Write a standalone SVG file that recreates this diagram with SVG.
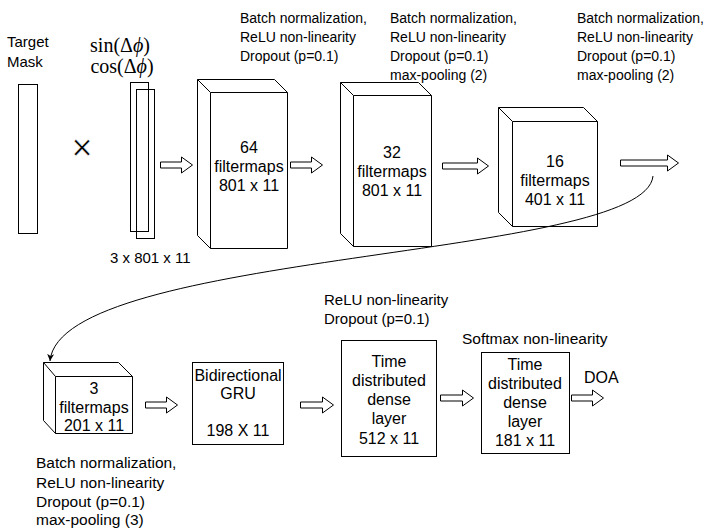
<svg xmlns="http://www.w3.org/2000/svg" width="722" height="528" viewBox="0 0 722 528">
<style>
.s{fill:#fff;stroke:#000;stroke-width:1}
.t{font-family:"Liberation Sans",Arial,sans-serif;fill:#000}
.b{font-size:16px;text-anchor:middle}
.l14{font-size:14px}
.l15{font-size:15px}
.l155{font-size:15.5px}
.ar{fill:#fff;stroke:#000;stroke-width:1}
.m{font-family:"Liberation Serif","Times New Roman",serif;font-size:20px;text-anchor:middle}
</style>
<defs>
<marker id="ah" markerWidth="8" markerHeight="8" refX="7" refY="4" orient="auto" markerUnits="userSpaceOnUse">
<path d="M0,0.5 L7,4 L0,7.5 L2,4 Z" fill="#000"/>
</marker>
</defs>
<rect width="722" height="528" fill="#fff"/>

<g id="labels">
<text class="t l15" x="7" y="47">Target</text>
<text class="t l15" x="7" y="67">Mask</text>
<text class="m" x="120" y="52">sin(Δ<tspan font-style="italic">ϕ</tspan>)</text>
<text class="m" x="122" y="73">cos(Δ<tspan font-style="italic">ϕ</tspan>)</text>
<text class="t l15" x="110" y="263">3 x 801 x 11</text>
<text class="t" x="82" y="160" font-size="36" text-anchor="middle" stroke="#fff" stroke-width="0.6">×</text>
<text class="t l14" x="240" y="23">Batch normalization,</text>
<text class="t l14" x="240" y="42">ReLU non-linearity</text>
<text class="t l14" x="240" y="61">Dropout (p=0.1)</text>
<text class="t l14" x="390" y="23">Batch normalization,</text>
<text class="t l14" x="390" y="42">ReLU non-linearity</text>
<text class="t l14" x="390" y="61">Dropout (p=0.1)</text>
<text class="t l14" x="390" y="80">max-pooling (2)</text>
<text class="t l14" x="577" y="23">Batch normalization,</text>
<text class="t l14" x="577" y="42">ReLU non-linearity</text>
<text class="t l14" x="577" y="61">Dropout (p=0.1)</text>
<text class="t l14" x="577" y="80">max-pooling (2)</text>
<text class="t l15" x="324" y="305">ReLU non-linearity</text>
<text class="t l15" x="324" y="324">Dropout (p=0.1)</text>
<text class="t l155" x="462" y="344">Softmax non-linearity</text>
<text class="t" x="584" y="383" font-size="16">DOA</text>
<text class="t l155" x="36" y="468">Batch normalization,</text>
<text class="t l155" x="36" y="488">ReLU non-linearity</text>
<text class="t l155" x="36" y="507">Dropout (p=0.1)</text>
<text class="t l155" x="36" y="525">max-pooling (3)</text>
</g>

<g id="mask">
<rect class="s" x="18.5" y="84.5" width="19" height="149"/>
</g>
<g id="input">
<rect class="s" x="130.5" y="82.5" width="18" height="149"/>
<rect fill="none" stroke="#000" x="136.5" y="89.5" width="18" height="149"/>
</g>

<g id="cube64">
<path class="s" d="M197.5,79.5 H274.5 L287.5,92.5 V248.5 H210.5 L197.5,235.5 Z"/>
<path fill="none" stroke="#000" d="M197.5,79.5 L210.5,92.5 H287.5 M210.5,92.5 V248.5"/>
<text class="t b" x="249" y="153">64</text>
<text class="t b" x="249" y="172">filtermaps</text>
<text class="t b" x="249" y="191">801 x 11</text>
</g>

<g id="cube32">
<path class="s" d="M340.5,82.5 H418.5 L431.5,95.5 V246.5 H353.5 L340.5,233.5 Z"/>
<path fill="none" stroke="#000" d="M340.5,82.5 L353.5,95.5 H431.5 M353.5,95.5 V246.5"/>
<text class="t b" x="392" y="158">32</text>
<text class="t b" x="392" y="177">filtermaps</text>
<text class="t b" x="392" y="196">801 x 11</text>
</g>

<g id="cube16">
<path class="s" d="M498.5,107.5 H583.5 L597.5,121.5 V226.5 H512.5 L498.5,212.5 Z"/>
<path fill="none" stroke="#000" d="M498.5,107.5 L512.5,121.5 H597.5 M512.5,121.5 V226.5"/>
<text class="t b" x="555" y="167">16</text>
<text class="t b" x="555" y="186">filtermaps</text>
<text class="t b" x="555" y="205">401 x 11</text>
</g>

<g id="cube3">
<path class="s" d="M43.5,362.5 H118.5 L132.5,376.5 V433.5 H55.5 L43.5,420.5 Z"/>
<path fill="none" stroke="#000" d="M43.5,362.5 L55.5,376.5 H132.5 M55.5,376.5 V433.5"/>
<text class="t b" x="94" y="394">3</text>
<text class="t b" x="94" y="413">filtermaps</text>
<text class="t b" x="94" y="431">201 x 11</text>
</g>

<g id="gru">
<rect class="s" x="192.5" y="362.5" width="91" height="82"/>
<text class="t b" x="238" y="381">Bidirectional</text>
<text class="t b" x="238" y="399">GRU</text>
<text class="t b" x="238" y="436">198 X 11</text>
</g>

<g id="dense512">
<rect class="s" x="341.5" y="340.5" width="95" height="116"/>
<text class="t b" x="389" y="367">Time</text>
<text class="t b" x="389" y="386">distributed</text>
<text class="t b" x="389" y="405">dense</text>
<text class="t b" x="389" y="424">layer</text>
<text class="t b" x="389" y="444">512 x 11</text>
</g>

<g id="dense181">
<rect class="s" x="481.5" y="352.5" width="88" height="101"/>
<text class="t b" x="525" y="370">Time</text>
<text class="t b" x="525" y="389">distributed</text>
<text class="t b" x="525" y="408">dense</text>
<text class="t b" x="525" y="427">layer</text>
<text class="t b" x="525" y="446">181 x 11</text>
</g>

<g id="connectors">
<path class="ar" d="M160.5,162 H181.5 V157 L192.5,165 L181.5,173 V168 H160.5 Z"/>
<path class="ar" d="M290.5,162 H311.5 V157 L322.5,165 L311.5,173 V168 H290.5 Z"/>
<path class="ar" d="M442.5,163 H477.5 V158 L488.5,166 L477.5,174 V169 H442.5 Z"/>
<path class="ar" d="M620.5,160 H667.5 V155 L678.5,163 L667.5,171 V166 H620.5 Z"/>
<path class="ar" d="M145.5,402 H166.5 V397 L177.5,405 L166.5,413 V408 H145.5 Z"/>
<path class="ar" d="M300.5,402 H322.5 V397 L333.5,405 L322.5,413 V408 H300.5 Z"/>
<path class="ar" d="M440.5,395 H462.5 V390 L473.5,398 L462.5,406 V401 H440.5 Z"/>
<path class="ar" d="M571.5,395 H592.5 V390 L603.5,398 L592.5,406 V401 H571.5 Z"/>
<path fill="none" stroke="#000" stroke-width="1" d="M653,176 C645,260 60,250 50,361" marker-end="url(#ah)"/>
</g>
</svg>
